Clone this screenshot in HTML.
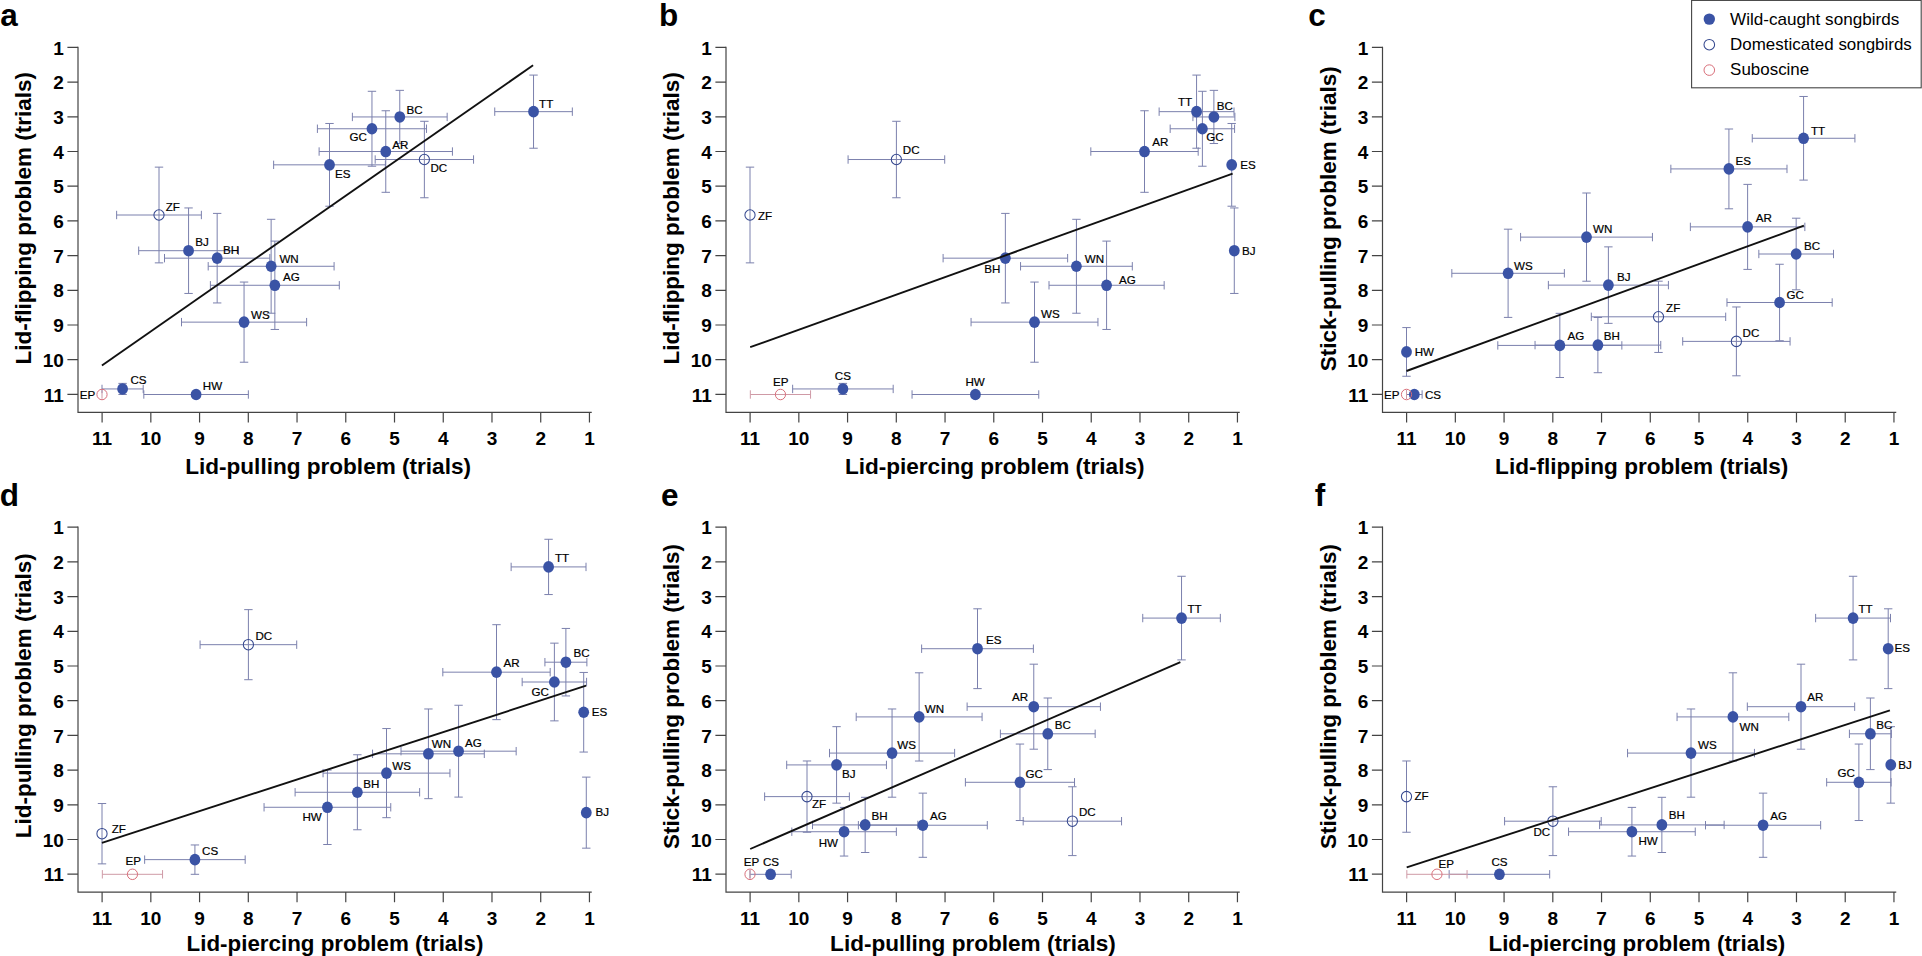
<!DOCTYPE html>
<html lang="en">
<head>
<meta charset="utf-8">
<title>Problem-solving performance across songbird species</title>
<style>
html,body{margin:0;padding:0;background:#fff;}
body{width:1922px;height:956px;overflow:hidden;}
svg{display:block;font-family:"Liberation Sans",sans-serif;}
.pl{font-size:31.5px;font-weight:700;fill:#000;}
.tk{font-size:19px;font-weight:700;fill:#000;}
.alx{font-size:21.5px;font-weight:700;fill:#000;}
.aly{font-size:22.5px;font-weight:700;fill:#000;}
.sl{font-size:11.6px;fill:#000;stroke:#000;stroke-width:0.2px;}
.lg{font-size:16px;fill:#000;}
.ax path{fill:none;stroke:#444;stroke-width:1.2;}
.eb{fill:none;stroke:#7b80ad;stroke-width:1;}
.ebr{fill:none;stroke:#cf9aa6;stroke-width:1;}
.mw{fill:#3a53a5;}
.md{fill:none;stroke:#35488f;stroke-width:1.05;}
.ms{fill:none;stroke:#d96f7a;stroke-width:1;}
.rl{fill:none;stroke:#111;stroke-width:1.9;}
</style>
</head>
<body>
<svg width="1922" height="956" viewBox="0 0 1922 956">
<rect width="1922" height="956" fill="#fff"/>
<g id="panel-a">
<text class="pl" transform="translate(0.2 25.9) scale(1 1)">a</text>
<g class="ax">
<path d="M78 46.7V412.3H591.75"/>
<path d="M78 47.4h-10.6M589.45 412.3v10.2M78 82.1h-10.6M540.72 412.3v10.2M78 116.8h-10.6M491.98 412.3v10.2M78 151.5h-10.6M443.25 412.3v10.2M78 186.2h-10.6M394.51 412.3v10.2M78 220.9h-10.6M345.77 412.3v10.2M78 255.6h-10.6M297.04 412.3v10.2M78 290.3h-10.6M248.3 412.3v10.2M78 325h-10.6M199.57 412.3v10.2M78 359.7h-10.6M150.83 412.3v10.2M78 394.4h-10.6M102.1 412.3v10.2"/>
</g>
<text class="tk" transform="translate(63.8 54.5) scale(1 1)" text-anchor="end">1</text>
<text class="tk" transform="translate(589.45 444.8) scale(1 1)" text-anchor="middle">1</text>
<text class="tk" transform="translate(63.8 89.2) scale(1 1)" text-anchor="end">2</text>
<text class="tk" transform="translate(540.72 444.8) scale(1 1)" text-anchor="middle">2</text>
<text class="tk" transform="translate(63.8 123.9) scale(1 1)" text-anchor="end">3</text>
<text class="tk" transform="translate(491.98 444.8) scale(1 1)" text-anchor="middle">3</text>
<text class="tk" transform="translate(63.8 158.6) scale(1 1)" text-anchor="end">4</text>
<text class="tk" transform="translate(443.25 444.8) scale(1 1)" text-anchor="middle">4</text>
<text class="tk" transform="translate(63.8 193.3) scale(1 1)" text-anchor="end">5</text>
<text class="tk" transform="translate(394.51 444.8) scale(1 1)" text-anchor="middle">5</text>
<text class="tk" transform="translate(63.8 228) scale(1 1)" text-anchor="end">6</text>
<text class="tk" transform="translate(345.77 444.8) scale(1 1)" text-anchor="middle">6</text>
<text class="tk" transform="translate(63.8 262.7) scale(1 1)" text-anchor="end">7</text>
<text class="tk" transform="translate(297.04 444.8) scale(1 1)" text-anchor="middle">7</text>
<text class="tk" transform="translate(63.8 297.4) scale(1 1)" text-anchor="end">8</text>
<text class="tk" transform="translate(248.3 444.8) scale(1 1)" text-anchor="middle">8</text>
<text class="tk" transform="translate(63.8 332.1) scale(1 1)" text-anchor="end">9</text>
<text class="tk" transform="translate(199.57 444.8) scale(1 1)" text-anchor="middle">9</text>
<text class="tk" transform="translate(63.8 366.8) scale(1 1)" text-anchor="end">10</text>
<text class="tk" transform="translate(150.83 444.8) scale(1 1)" text-anchor="middle">10</text>
<text class="tk" transform="translate(63.8 401.5) scale(1 1)" text-anchor="end">11</text>
<text class="tk" transform="translate(102.1 444.8) scale(1 1)" text-anchor="middle">11</text>
<text class="alx" transform="translate(185.2 473.5) scale(1.05 1)">Lid-pulling problem (trials)</text>
<text class="aly" transform="translate(31 364.4) rotate(-90) scale(1 1)">Lid-flipping problem (trials)</text>
<path class="eb" d="M494.74 111.66H572.33M494.74 107.46v8.4M572.33 107.46v8.4M533.54 75.09V148.23M529.34 75.09h8.4M529.34 148.23h8.4M352.39 116.94H447.16M352.39 112.74v8.4M447.16 112.74v8.4M399.78 90.35V143.53M395.58 90.35h8.4M395.58 143.53h8.4M317.4 128.76H426.52M317.4 124.56v8.4M426.52 124.56v8.4M371.96 91.29V166.23M367.76 91.29h8.4M367.76 166.23h8.4M319.11 151.53H452.43M319.11 147.33v8.4M452.43 147.33v8.4M385.77 110.75V192.3M381.57 110.75h8.4M381.57 192.3h8.4M375.18 159.52H473.56M375.18 155.32v8.4M473.56 155.32v8.4M424.37 121.29V197.76M420.17 121.29h8.4M420.17 197.76h8.4M273.63 164.84H385.38M273.63 160.64v8.4M385.38 160.64v8.4M329.51 123.48V206.21M325.31 123.48h8.4M325.31 206.21h8.4M116.64 215H201.36M116.64 210.8v8.4M201.36 210.8v8.4M159 167.13V262.86M154.8 167.13h8.4M154.8 262.86h8.4M138.7 250.7H238.44M138.7 246.5v8.4M238.44 246.5v8.4M188.57 207.94V293.45M184.37 207.94h8.4M184.37 293.45h8.4M164.51 258.17H269.82M164.51 253.97v8.4M269.82 253.97v8.4M217.17 213.4V302.94M212.97 213.4h8.4M212.97 302.94h8.4M208.19 266.27H334.09M208.19 262.07v8.4M334.09 262.07v8.4M271.14 219.31V313.23M266.94 219.31h8.4M266.94 313.23h8.4M210.38 285.28H339.31M210.38 281.08v8.4M339.31 281.08v8.4M274.85 241.1V329.46M270.65 241.1h8.4M270.65 329.46h8.4M181.5 322.13H306.62M181.5 317.93v8.4M306.62 317.93v8.4M244.06 282.05V362.21M239.86 282.05h8.4M239.86 362.21h8.4M102 388.94H143.19M102 384.74v8.4M143.19 384.74v8.4M122.59 383.38V394.5M118.39 383.38h8.4M118.39 394.5h8.4M143.82 394.5H248.35M143.82 390.3v8.4M248.35 390.3v8.4"/>
<path class="ebr" d="M102 390.3v8.4"/>
<ellipse class="mw" cx="533.54" cy="111.66" rx="5.4" ry="5.8"/>
<ellipse class="mw" cx="399.78" cy="116.94" rx="5.4" ry="5.8"/>
<ellipse class="mw" cx="371.96" cy="128.76" rx="5.4" ry="5.8"/>
<ellipse class="mw" cx="385.77" cy="151.53" rx="5.4" ry="5.8"/>
<ellipse class="md" cx="424.37" cy="159.52" rx="5.1" ry="5.25"/>
<ellipse class="mw" cx="329.51" cy="164.84" rx="5.4" ry="5.8"/>
<ellipse class="md" cx="159" cy="215" rx="5.1" ry="5.25"/>
<ellipse class="mw" cx="188.57" cy="250.7" rx="5.4" ry="5.8"/>
<ellipse class="mw" cx="217.17" cy="258.17" rx="5.4" ry="5.8"/>
<ellipse class="mw" cx="271.14" cy="266.27" rx="5.4" ry="5.8"/>
<ellipse class="mw" cx="274.85" cy="285.28" rx="5.4" ry="5.8"/>
<ellipse class="mw" cx="244.06" cy="322.13" rx="5.4" ry="5.8"/>
<ellipse class="mw" cx="122.59" cy="388.94" rx="5.4" ry="5.8"/>
<ellipse class="mw" cx="196.09" cy="394.5" rx="5.4" ry="5.8"/>
<ellipse class="ms" cx="102" cy="394.5" rx="5.1" ry="5.25"/>
<path class="rl" d="M101.9 365.5L533.1 65.3"/>
<text class="sl" transform="translate(165.7 210.8) scale(1 1)">ZF</text>
<text class="sl" transform="translate(195.3 245.5) scale(1 1)">BJ</text>
<text class="sl" transform="translate(222.9 253.8) scale(1 1)">BH</text>
<text class="sl" transform="translate(279.4 262.6) scale(1 1)">WN</text>
<text class="sl" transform="translate(282.9 281.4) scale(1 1)">AG</text>
<text class="sl" transform="translate(251 319.1) scale(1 1)">WS</text>
<text class="sl" transform="translate(130.5 384.3) scale(1 1)">CS</text>
<text class="sl" transform="translate(202.8 390.1) scale(1 1)">HW</text>
<text class="sl" transform="translate(79.8 399.4) scale(1 1)">EP</text>
<text class="sl" transform="translate(539.1 108.4) scale(1 1)">TT</text>
<text class="sl" transform="translate(406.6 113.7) scale(1 1)">BC</text>
<text class="sl" transform="translate(349.6 141.3) scale(1 1)">GC</text>
<text class="sl" transform="translate(392.3 148.6) scale(1 1)">AR</text>
<text class="sl" transform="translate(430.4 172.4) scale(1 1)">DC</text>
<text class="sl" transform="translate(335.1 177.7) scale(1 1)">ES</text>
</g>
<g id="panel-b">
<text class="pl" transform="translate(659 25.9) scale(1 1)">b</text>
<g class="ax">
<path d="M726 46.7V412.3H1239.75"/>
<path d="M726 47.4h-10.6M1237.45 412.3v10.2M726 82.1h-10.6M1188.72 412.3v10.2M726 116.8h-10.6M1139.98 412.3v10.2M726 151.5h-10.6M1091.24 412.3v10.2M726 186.2h-10.6M1042.51 412.3v10.2M726 220.9h-10.6M993.77 412.3v10.2M726 255.6h-10.6M945.04 412.3v10.2M726 290.3h-10.6M896.3 412.3v10.2M726 325h-10.6M847.57 412.3v10.2M726 359.7h-10.6M798.84 412.3v10.2M726 394.4h-10.6M750.1 412.3v10.2"/>
</g>
<text class="tk" transform="translate(711.8 54.5) scale(1 1)" text-anchor="end">1</text>
<text class="tk" transform="translate(1237.45 444.8) scale(1 1)" text-anchor="middle">1</text>
<text class="tk" transform="translate(711.8 89.2) scale(1 1)" text-anchor="end">2</text>
<text class="tk" transform="translate(1188.72 444.8) scale(1 1)" text-anchor="middle">2</text>
<text class="tk" transform="translate(711.8 123.9) scale(1 1)" text-anchor="end">3</text>
<text class="tk" transform="translate(1139.98 444.8) scale(1 1)" text-anchor="middle">3</text>
<text class="tk" transform="translate(711.8 158.6) scale(1 1)" text-anchor="end">4</text>
<text class="tk" transform="translate(1091.24 444.8) scale(1 1)" text-anchor="middle">4</text>
<text class="tk" transform="translate(711.8 193.3) scale(1 1)" text-anchor="end">5</text>
<text class="tk" transform="translate(1042.51 444.8) scale(1 1)" text-anchor="middle">5</text>
<text class="tk" transform="translate(711.8 228) scale(1 1)" text-anchor="end">6</text>
<text class="tk" transform="translate(993.77 444.8) scale(1 1)" text-anchor="middle">6</text>
<text class="tk" transform="translate(711.8 262.7) scale(1 1)" text-anchor="end">7</text>
<text class="tk" transform="translate(945.04 444.8) scale(1 1)" text-anchor="middle">7</text>
<text class="tk" transform="translate(711.8 297.4) scale(1 1)" text-anchor="end">8</text>
<text class="tk" transform="translate(896.3 444.8) scale(1 1)" text-anchor="middle">8</text>
<text class="tk" transform="translate(711.8 332.1) scale(1 1)" text-anchor="end">9</text>
<text class="tk" transform="translate(847.57 444.8) scale(1 1)" text-anchor="middle">9</text>
<text class="tk" transform="translate(711.8 366.8) scale(1 1)" text-anchor="end">10</text>
<text class="tk" transform="translate(798.84 444.8) scale(1 1)" text-anchor="middle">10</text>
<text class="tk" transform="translate(711.8 401.5) scale(1 1)" text-anchor="end">11</text>
<text class="tk" transform="translate(750.1 444.8) scale(1 1)" text-anchor="middle">11</text>
<text class="alx" transform="translate(844.9 473.5) scale(1.05 1)">Lid-piercing problem (trials)</text>
<text class="aly" transform="translate(679 364.6) rotate(-90) scale(1 1)">Lid-flipping problem (trials)</text>
<path class="eb" d="M1159.14 111.66H1234M1159.14 107.46v8.4M1234 107.46v8.4M1196.57 75.09V148.23M1192.37 75.09h8.4M1192.37 148.23h8.4M1192.91 116.94H1234.88M1192.91 112.74v8.4M1234.88 112.74v8.4M1213.89 90.35V143.53M1209.69 90.35h8.4M1209.69 143.53h8.4M1170.17 128.76H1234.58M1170.17 124.56v8.4M1234.58 124.56v8.4M1202.38 91.29V166.23M1198.18 91.29h8.4M1198.18 166.23h8.4M1090.82 151.53H1198.18M1090.82 147.33v8.4M1198.18 147.33v8.4M1144.5 110.75V192.3M1140.3 110.75h8.4M1140.3 192.3h8.4M848.09 159.52H944.71M848.09 155.32v8.4M944.71 155.32v8.4M896.4 121.29V197.76M892.2 121.29h8.4M892.2 197.76h8.4M1231.7 123.48V206.21M1227.5 123.48h8.4M1227.5 206.21h8.4M750 167.13V262.86M745.8 167.13h8.4M745.8 262.86h8.4M1234.29 207.94V293.45M1230.09 207.94h8.4M1230.09 293.45h8.4M943.1 258.17H1067.64M943.1 253.97v8.4M1067.64 253.97v8.4M1005.37 213.4V302.94M1001.17 213.4h8.4M1001.17 302.94h8.4M1020.55 266.27H1132.3M1020.55 262.07v8.4M1132.3 262.07v8.4M1076.42 219.31V313.23M1072.22 219.31h8.4M1072.22 313.23h8.4M1049 285.28H1164.17M1049 281.08v8.4M1164.17 281.08v8.4M1106.58 241.1V329.46M1102.38 241.1h8.4M1102.38 329.46h8.4M971.06 322.13H1097.94M971.06 317.93v8.4M1097.94 317.93v8.4M1034.5 282.05V362.21M1030.3 282.05h8.4M1030.3 362.21h8.4M792.65 388.94H893.18M792.65 384.74v8.4M893.18 384.74v8.4M842.92 383.38V394.5M838.72 383.38h8.4M838.72 394.5h8.4M912.06 394.5H1038.75M912.06 390.3v8.4M1038.75 390.3v8.4"/>
<path class="ebr" d="M750.34 394.5H810.56M750.34 390.3v8.4M810.56 390.3v8.4"/>
<ellipse class="mw" cx="1196.57" cy="111.66" rx="5.4" ry="5.8"/>
<ellipse class="mw" cx="1213.89" cy="116.94" rx="5.4" ry="5.8"/>
<ellipse class="mw" cx="1202.38" cy="128.76" rx="5.4" ry="5.8"/>
<ellipse class="mw" cx="1144.5" cy="151.53" rx="5.4" ry="5.8"/>
<ellipse class="md" cx="896.4" cy="159.52" rx="5.1" ry="5.25"/>
<ellipse class="mw" cx="1231.7" cy="164.84" rx="5.4" ry="5.8"/>
<ellipse class="md" cx="750" cy="215" rx="5.1" ry="5.25"/>
<ellipse class="mw" cx="1234.29" cy="250.7" rx="5.4" ry="5.8"/>
<ellipse class="mw" cx="1005.37" cy="258.17" rx="5.4" ry="5.8"/>
<ellipse class="mw" cx="1076.42" cy="266.27" rx="5.4" ry="5.8"/>
<ellipse class="mw" cx="1106.58" cy="285.28" rx="5.4" ry="5.8"/>
<ellipse class="mw" cx="1034.5" cy="322.13" rx="5.4" ry="5.8"/>
<ellipse class="mw" cx="842.92" cy="388.94" rx="5.4" ry="5.8"/>
<ellipse class="mw" cx="975.41" cy="394.5" rx="5.4" ry="5.8"/>
<ellipse class="ms" cx="780.45" cy="394.5" rx="5.1" ry="5.25"/>
<path class="rl" d="M750.2 347.2L1232.6 173.7"/>
<text class="sl" transform="translate(758 219.6) scale(1 1)">ZF</text>
<text class="sl" transform="translate(902.8 153.6) scale(1 1)">DC</text>
<text class="sl" transform="translate(773 385.6) scale(1 1)">EP</text>
<text class="sl" transform="translate(834.8 380.1) scale(1 1)">CS</text>
<text class="sl" transform="translate(1177.9 106.4) scale(1 1)">TT</text>
<text class="sl" transform="translate(1216.7 110.4) scale(1 1)">BC</text>
<text class="sl" transform="translate(1206.3 140.9) scale(1 1)">GC</text>
<text class="sl" transform="translate(1152.3 146.1) scale(1 1)">AR</text>
<text class="sl" transform="translate(1240.3 169.4) scale(1 1)">ES</text>
<text class="sl" transform="translate(984.3 273.4) scale(1 1)">BH</text>
<text class="sl" transform="translate(1084.7 262.8) scale(1 1)">WN</text>
<text class="sl" transform="translate(1119.1 283.9) scale(1 1)">AG</text>
<text class="sl" transform="translate(1041.1 318.1) scale(1 1)">WS</text>
<text class="sl" transform="translate(965.5 386.3) scale(1 1)">HW</text>
<text class="sl" transform="translate(1241.9 254.5) scale(1 1)">BJ</text>
</g>
<g id="panel-c">
<text class="pl" transform="translate(1308.3 25.9) scale(1 1)">c</text>
<g class="ax">
<path d="M1382.5 46.7V412.3H1896.25"/>
<path d="M1382.5 47.4h-10.6M1893.95 412.3v10.2M1382.5 82.1h-10.6M1845.22 412.3v10.2M1382.5 116.8h-10.6M1796.48 412.3v10.2M1382.5 151.5h-10.6M1747.74 412.3v10.2M1382.5 186.2h-10.6M1699.01 412.3v10.2M1382.5 220.9h-10.6M1650.28 412.3v10.2M1382.5 255.6h-10.6M1601.54 412.3v10.2M1382.5 290.3h-10.6M1552.81 412.3v10.2M1382.5 325h-10.6M1504.07 412.3v10.2M1382.5 359.7h-10.6M1455.34 412.3v10.2M1382.5 394.4h-10.6M1406.6 412.3v10.2"/>
</g>
<text class="tk" transform="translate(1368.3 54.5) scale(1 1)" text-anchor="end">1</text>
<text class="tk" transform="translate(1893.95 444.8) scale(1 1)" text-anchor="middle">1</text>
<text class="tk" transform="translate(1368.3 89.2) scale(1 1)" text-anchor="end">2</text>
<text class="tk" transform="translate(1845.22 444.8) scale(1 1)" text-anchor="middle">2</text>
<text class="tk" transform="translate(1368.3 123.9) scale(1 1)" text-anchor="end">3</text>
<text class="tk" transform="translate(1796.48 444.8) scale(1 1)" text-anchor="middle">3</text>
<text class="tk" transform="translate(1368.3 158.6) scale(1 1)" text-anchor="end">4</text>
<text class="tk" transform="translate(1747.74 444.8) scale(1 1)" text-anchor="middle">4</text>
<text class="tk" transform="translate(1368.3 193.3) scale(1 1)" text-anchor="end">5</text>
<text class="tk" transform="translate(1699.01 444.8) scale(1 1)" text-anchor="middle">5</text>
<text class="tk" transform="translate(1368.3 228) scale(1 1)" text-anchor="end">6</text>
<text class="tk" transform="translate(1650.28 444.8) scale(1 1)" text-anchor="middle">6</text>
<text class="tk" transform="translate(1368.3 262.7) scale(1 1)" text-anchor="end">7</text>
<text class="tk" transform="translate(1601.54 444.8) scale(1 1)" text-anchor="middle">7</text>
<text class="tk" transform="translate(1368.3 297.4) scale(1 1)" text-anchor="end">8</text>
<text class="tk" transform="translate(1552.81 444.8) scale(1 1)" text-anchor="middle">8</text>
<text class="tk" transform="translate(1368.3 332.1) scale(1 1)" text-anchor="end">9</text>
<text class="tk" transform="translate(1504.07 444.8) scale(1 1)" text-anchor="middle">9</text>
<text class="tk" transform="translate(1368.3 366.8) scale(1 1)" text-anchor="end">10</text>
<text class="tk" transform="translate(1455.34 444.8) scale(1 1)" text-anchor="middle">10</text>
<text class="tk" transform="translate(1368.3 401.5) scale(1 1)" text-anchor="end">11</text>
<text class="tk" transform="translate(1406.6 444.8) scale(1 1)" text-anchor="middle">11</text>
<text class="alx" transform="translate(1495.1 473.5) scale(1.05 1)">Lid-flipping problem (trials)</text>
<text class="aly" transform="translate(1335.5 371.2) rotate(-90) scale(1 1)">Stick-pulling problem (trials)</text>
<path class="eb" d="M1752.25 138.28H1854.92M1752.25 134.08v8.4M1854.92 134.08v8.4M1803.59 96.47V180.1M1799.39 96.47h8.4M1799.39 180.1h8.4M1758.84 254H1833.5M1758.84 249.8v8.4M1833.5 249.8v8.4M1796.17 218.2V289.8M1791.97 218.2h8.4M1791.97 289.8h8.4M1726.97 302.49H1832.18M1726.97 298.29v8.4M1832.18 298.29v8.4M1779.58 264.25V340.73M1775.38 264.25h8.4M1775.38 340.73h8.4M1690.37 226.89H1804.85M1690.37 222.69v8.4M1804.85 222.69v8.4M1747.61 184.38V269.4M1743.41 184.38h8.4M1743.41 269.4h8.4M1682.71 341.39H1790.07M1682.71 337.19v8.4M1790.07 337.19v8.4M1736.39 306.97V375.8M1732.19 306.97h8.4M1732.19 375.8h8.4M1670.85 168.91H1786.99M1670.85 164.71v8.4M1786.99 164.71v8.4M1728.92 129V208.81M1724.72 129h8.4M1724.72 208.81h8.4M1591.31 316.81H1725.7M1591.31 312.61v8.4M1725.7 312.61v8.4M1658.5 281.18V352.44M1654.3 281.18h8.4M1654.3 352.44h8.4M1548.36 285.11H1668.41M1548.36 280.91v8.4M1668.41 280.91v8.4M1608.39 246.87V323.35M1604.19 246.87h8.4M1604.19 323.35h8.4M1535.04 345.11H1660.75M1535.04 340.91v8.4M1660.75 340.91v8.4M1597.89 317.51V372.71M1593.69 317.51h8.4M1593.69 372.71h8.4M1520.59 237.11H1652.45M1520.59 232.91v8.4M1652.45 232.91v8.4M1586.52 193V281.22M1582.32 193h8.4M1582.32 281.22h8.4M1497.8 345.42H1621.85M1497.8 341.22v8.4M1621.85 341.22v8.4M1559.83 313.34V377.5M1555.63 313.34h8.4M1555.63 377.5h8.4M1451.84 273.29H1564.37M1451.84 269.09v8.4M1564.37 269.09v8.4M1508.1 229.18V317.4M1503.9 229.18h8.4M1503.9 317.4h8.4M1406.5 394.5H1422.12M1406.5 390.3v8.4M1422.12 390.3v8.4M1406.5 327.59V376.25M1402.3 327.59h8.4M1402.3 376.25h8.4"/>
<path class="ebr" d="M1406.5 390.3v8.4"/>
<ellipse class="mw" cx="1803.59" cy="138.28" rx="5.4" ry="5.8"/>
<ellipse class="mw" cx="1796.17" cy="254" rx="5.4" ry="5.8"/>
<ellipse class="mw" cx="1779.58" cy="302.49" rx="5.4" ry="5.8"/>
<ellipse class="mw" cx="1747.61" cy="226.89" rx="5.4" ry="5.8"/>
<ellipse class="md" cx="1736.39" cy="341.39" rx="5.1" ry="5.25"/>
<ellipse class="mw" cx="1728.92" cy="168.91" rx="5.4" ry="5.8"/>
<ellipse class="md" cx="1658.5" cy="316.81" rx="5.1" ry="5.25"/>
<ellipse class="mw" cx="1608.39" cy="285.11" rx="5.4" ry="5.8"/>
<ellipse class="mw" cx="1597.89" cy="345.11" rx="5.4" ry="5.8"/>
<ellipse class="mw" cx="1586.52" cy="237.11" rx="5.4" ry="5.8"/>
<ellipse class="mw" cx="1559.83" cy="345.42" rx="5.4" ry="5.8"/>
<ellipse class="mw" cx="1508.1" cy="273.29" rx="5.4" ry="5.8"/>
<ellipse class="mw" cx="1414.31" cy="394.5" rx="5.4" ry="5.8"/>
<ellipse class="mw" cx="1406.5" cy="351.92" rx="5.4" ry="5.8"/>
<ellipse class="ms" cx="1406.5" cy="394.5" rx="5.1" ry="5.25"/>
<path class="rl" d="M1406.5 371L1803.9 225.7"/>
<text class="sl" transform="translate(1414.7 356.2) scale(1 1)">HW</text>
<text class="sl" transform="translate(1384.1 399.4) scale(1 1)">EP</text>
<text class="sl" transform="translate(1425 399.4) scale(1 1)">CS</text>
<text class="sl" transform="translate(1514.1 269.6) scale(1 1)">WS</text>
<text class="sl" transform="translate(1567.6 340.4) scale(1 1)">AG</text>
<text class="sl" transform="translate(1603.8 340.4) scale(1 1)">BH</text>
<text class="sl" transform="translate(1810.9 134.5) scale(1 1)">TT</text>
<text class="sl" transform="translate(1735.6 164.7) scale(1 1)">ES</text>
<text class="sl" transform="translate(1755.7 222.1) scale(1 1)">AR</text>
<text class="sl" transform="translate(1804.1 250) scale(1 1)">BC</text>
<text class="sl" transform="translate(1616.9 280.9) scale(1 1)">BJ</text>
<text class="sl" transform="translate(1593 233.2) scale(1 1)">WN</text>
<text class="sl" transform="translate(1786.5 299) scale(1 1)">GC</text>
<text class="sl" transform="translate(1666.1 312.3) scale(1 1)">ZF</text>
<text class="sl" transform="translate(1742.6 336.6) scale(1 1)">DC</text>
</g>
<g id="panel-d">
<text class="pl" transform="translate(-0.2 505.7) scale(1 1)">d</text>
<g class="ax">
<path d="M78 526.5V892.1H591.75"/>
<path d="M78 527.2h-10.6M589.45 892.1v10.2M78 561.9h-10.6M540.72 892.1v10.2M78 596.6h-10.6M491.98 892.1v10.2M78 631.3h-10.6M443.25 892.1v10.2M78 666h-10.6M394.51 892.1v10.2M78 700.7h-10.6M345.77 892.1v10.2M78 735.4h-10.6M297.04 892.1v10.2M78 770.1h-10.6M248.3 892.1v10.2M78 804.8h-10.6M199.57 892.1v10.2M78 839.5h-10.6M150.83 892.1v10.2M78 874.2h-10.6M102.1 892.1v10.2"/>
</g>
<text class="tk" transform="translate(63.8 534.3) scale(1 1)" text-anchor="end">1</text>
<text class="tk" transform="translate(589.45 924.6) scale(1 1)" text-anchor="middle">1</text>
<text class="tk" transform="translate(63.8 569) scale(1 1)" text-anchor="end">2</text>
<text class="tk" transform="translate(540.72 924.6) scale(1 1)" text-anchor="middle">2</text>
<text class="tk" transform="translate(63.8 603.7) scale(1 1)" text-anchor="end">3</text>
<text class="tk" transform="translate(491.98 924.6) scale(1 1)" text-anchor="middle">3</text>
<text class="tk" transform="translate(63.8 638.4) scale(1 1)" text-anchor="end">4</text>
<text class="tk" transform="translate(443.25 924.6) scale(1 1)" text-anchor="middle">4</text>
<text class="tk" transform="translate(63.8 673.1) scale(1 1)" text-anchor="end">5</text>
<text class="tk" transform="translate(394.51 924.6) scale(1 1)" text-anchor="middle">5</text>
<text class="tk" transform="translate(63.8 707.8) scale(1 1)" text-anchor="end">6</text>
<text class="tk" transform="translate(345.77 924.6) scale(1 1)" text-anchor="middle">6</text>
<text class="tk" transform="translate(63.8 742.5) scale(1 1)" text-anchor="end">7</text>
<text class="tk" transform="translate(297.04 924.6) scale(1 1)" text-anchor="middle">7</text>
<text class="tk" transform="translate(63.8 777.2) scale(1 1)" text-anchor="end">8</text>
<text class="tk" transform="translate(248.3 924.6) scale(1 1)" text-anchor="middle">8</text>
<text class="tk" transform="translate(63.8 811.9) scale(1 1)" text-anchor="end">9</text>
<text class="tk" transform="translate(199.57 924.6) scale(1 1)" text-anchor="middle">9</text>
<text class="tk" transform="translate(63.8 846.6) scale(1 1)" text-anchor="end">10</text>
<text class="tk" transform="translate(150.83 924.6) scale(1 1)" text-anchor="middle">10</text>
<text class="tk" transform="translate(63.8 881.3) scale(1 1)" text-anchor="end">11</text>
<text class="tk" transform="translate(102.1 924.6) scale(1 1)" text-anchor="middle">11</text>
<text class="alx" transform="translate(186.6 950.6) scale(1.04 1)">Lid-piercing problem (trials)</text>
<text class="aly" transform="translate(31 838.3) rotate(-90) scale(1 1)">Lid-pulling problem (trials)</text>
<path class="eb" d="M511.14 566.92H586M511.14 562.72v8.4M586 562.72v8.4M548.57 539.28V594.55M544.37 539.28h8.4M544.37 594.55h8.4M544.91 662.19H586.88M544.91 657.99v8.4M586.88 657.99v8.4M565.89 628.44V695.95M561.69 628.44h8.4M561.69 695.95h8.4M522.17 682.01H586.58M522.17 677.81v8.4M586.58 677.81v8.4M554.38 643.15V720.87M550.18 643.15h8.4M550.18 720.87h8.4M442.82 672.17H550.18M442.82 667.97v8.4M550.18 667.97v8.4M496.5 624.69V719.65M492.3 624.69h8.4M492.3 719.65h8.4M200.09 644.68H296.71M200.09 640.48v8.4M296.71 640.48v8.4M248.4 609.64V679.71M244.2 609.64h8.4M244.2 679.71h8.4M583.7 672.45V752.05M579.5 672.45h8.4M579.5 752.05h8.4M102 803.53V863.87M97.8 803.53h8.4M97.8 863.87h8.4M586.29 777.11V848.16M582.09 777.11h8.4M582.09 848.16h8.4M295.1 792.27H419.64M295.1 788.07v8.4M419.64 788.07v8.4M357.37 754.76V829.77M353.17 754.76h8.4M353.17 829.77h8.4M372.55 753.82H484.3M372.55 749.62v8.4M484.3 749.62v8.4M428.42 708.98V798.66M424.22 708.98h8.4M424.22 798.66h8.4M401 751.18H516.17M401 746.98v8.4M516.17 746.98v8.4M458.58 705.26V797.1M454.38 705.26h8.4M454.38 797.1h8.4M323.06 773.11H449.94M323.06 768.91v8.4M449.94 768.91v8.4M386.5 728.55V817.68M382.3 728.55h8.4M382.3 817.68h8.4M144.65 859.63H245.18M144.65 855.43v8.4M245.18 855.43v8.4M194.92 844.96V874.3M190.72 844.96h8.4M190.72 874.3h8.4M264.06 807.28H390.75M264.06 803.08v8.4M390.75 803.08v8.4M327.41 770.05V844.51M323.21 770.05h8.4M323.21 844.51h8.4"/>
<path class="ebr" d="M102.34 874.3H162.56M102.34 870.1v8.4M162.56 870.1v8.4"/>
<ellipse class="mw" cx="548.57" cy="566.92" rx="5.4" ry="5.8"/>
<ellipse class="mw" cx="565.89" cy="662.19" rx="5.4" ry="5.8"/>
<ellipse class="mw" cx="554.38" cy="682.01" rx="5.4" ry="5.8"/>
<ellipse class="mw" cx="496.5" cy="672.17" rx="5.4" ry="5.8"/>
<ellipse class="md" cx="248.4" cy="644.68" rx="5.1" ry="5.25"/>
<ellipse class="mw" cx="583.7" cy="712.25" rx="5.4" ry="5.8"/>
<ellipse class="md" cx="102" cy="833.7" rx="5.1" ry="5.25"/>
<ellipse class="mw" cx="586.29" cy="812.64" rx="5.4" ry="5.8"/>
<ellipse class="mw" cx="357.37" cy="792.27" rx="5.4" ry="5.8"/>
<ellipse class="mw" cx="428.42" cy="753.82" rx="5.4" ry="5.8"/>
<ellipse class="mw" cx="458.58" cy="751.18" rx="5.4" ry="5.8"/>
<ellipse class="mw" cx="386.5" cy="773.11" rx="5.4" ry="5.8"/>
<ellipse class="mw" cx="194.92" cy="859.63" rx="5.4" ry="5.8"/>
<ellipse class="mw" cx="327.41" cy="807.28" rx="5.4" ry="5.8"/>
<ellipse class="ms" cx="132.45" cy="874.3" rx="5.1" ry="5.25"/>
<path class="rl" d="M101.9 842.8L586.1 685.7"/>
<text class="sl" transform="translate(255.5 639.6) scale(1 1)">DC</text>
<text class="sl" transform="translate(554.9 561.5) scale(1 1)">TT</text>
<text class="sl" transform="translate(573.5 656.9) scale(1 1)">BC</text>
<text class="sl" transform="translate(503.5 666.9) scale(1 1)">AR</text>
<text class="sl" transform="translate(531.6 695.8) scale(1 1)">GC</text>
<text class="sl" transform="translate(591.8 715.9) scale(1 1)">ES</text>
<text class="sl" transform="translate(431.7 748.1) scale(1 1)">WN</text>
<text class="sl" transform="translate(465.1 746.6) scale(1 1)">AG</text>
<text class="sl" transform="translate(392.3 769.5) scale(1 1)">WS</text>
<text class="sl" transform="translate(363.2 788.3) scale(1 1)">BH</text>
<text class="sl" transform="translate(595.4 816.4) scale(1 1)">BJ</text>
<text class="sl" transform="translate(111.7 832.7) scale(1 1)">ZF</text>
<text class="sl" transform="translate(125.5 865.3) scale(1 1)">EP</text>
<text class="sl" transform="translate(202.1 854.8) scale(1 1)">CS</text>
<text class="sl" transform="translate(302.5 821.4) scale(1 1)">HW</text>
</g>
<g id="panel-e">
<text class="pl" transform="translate(660.9 505.7) scale(1 1)">e</text>
<g class="ax">
<path d="M726 526.5V892.1H1239.75"/>
<path d="M726 527.2h-10.6M1237.45 892.1v10.2M726 561.9h-10.6M1188.72 892.1v10.2M726 596.6h-10.6M1139.98 892.1v10.2M726 631.3h-10.6M1091.24 892.1v10.2M726 666h-10.6M1042.51 892.1v10.2M726 700.7h-10.6M993.77 892.1v10.2M726 735.4h-10.6M945.04 892.1v10.2M726 770.1h-10.6M896.3 892.1v10.2M726 804.8h-10.6M847.57 892.1v10.2M726 839.5h-10.6M798.84 892.1v10.2M726 874.2h-10.6M750.1 892.1v10.2"/>
</g>
<text class="tk" transform="translate(711.8 534.3) scale(1 1)" text-anchor="end">1</text>
<text class="tk" transform="translate(1237.45 924.6) scale(1 1)" text-anchor="middle">1</text>
<text class="tk" transform="translate(711.8 569) scale(1 1)" text-anchor="end">2</text>
<text class="tk" transform="translate(1188.72 924.6) scale(1 1)" text-anchor="middle">2</text>
<text class="tk" transform="translate(711.8 603.7) scale(1 1)" text-anchor="end">3</text>
<text class="tk" transform="translate(1139.98 924.6) scale(1 1)" text-anchor="middle">3</text>
<text class="tk" transform="translate(711.8 638.4) scale(1 1)" text-anchor="end">4</text>
<text class="tk" transform="translate(1091.24 924.6) scale(1 1)" text-anchor="middle">4</text>
<text class="tk" transform="translate(711.8 673.1) scale(1 1)" text-anchor="end">5</text>
<text class="tk" transform="translate(1042.51 924.6) scale(1 1)" text-anchor="middle">5</text>
<text class="tk" transform="translate(711.8 707.8) scale(1 1)" text-anchor="end">6</text>
<text class="tk" transform="translate(993.77 924.6) scale(1 1)" text-anchor="middle">6</text>
<text class="tk" transform="translate(711.8 742.5) scale(1 1)" text-anchor="end">7</text>
<text class="tk" transform="translate(945.04 924.6) scale(1 1)" text-anchor="middle">7</text>
<text class="tk" transform="translate(711.8 777.2) scale(1 1)" text-anchor="end">8</text>
<text class="tk" transform="translate(896.3 924.6) scale(1 1)" text-anchor="middle">8</text>
<text class="tk" transform="translate(711.8 811.9) scale(1 1)" text-anchor="end">9</text>
<text class="tk" transform="translate(847.57 924.6) scale(1 1)" text-anchor="middle">9</text>
<text class="tk" transform="translate(711.8 846.6) scale(1 1)" text-anchor="end">10</text>
<text class="tk" transform="translate(798.84 924.6) scale(1 1)" text-anchor="middle">10</text>
<text class="tk" transform="translate(711.8 881.3) scale(1 1)" text-anchor="end">11</text>
<text class="tk" transform="translate(750.1 924.6) scale(1 1)" text-anchor="middle">11</text>
<text class="alx" transform="translate(830.1 950.6) scale(1.05 1)">Lid-pulling problem (trials)</text>
<text class="aly" transform="translate(679 849) rotate(-90) scale(1 1)">Stick-pulling problem (trials)</text>
<path class="eb" d="M1142.74 618.08H1220.33M1142.74 613.88v8.4M1220.33 613.88v8.4M1181.54 576.27V659.9M1177.34 576.27h8.4M1177.34 659.9h8.4M1000.39 733.8H1095.16M1000.39 729.6v8.4M1095.16 729.6v8.4M1047.78 698V769.6M1043.58 698h8.4M1043.58 769.6h8.4M965.4 782.29H1074.52M965.4 778.09v8.4M1074.52 778.09v8.4M1019.96 744.05V820.53M1015.76 744.05h8.4M1015.76 820.53h8.4M967.11 706.69H1100.43M967.11 702.49v8.4M1100.43 702.49v8.4M1033.77 664.18V749.2M1029.57 664.18h8.4M1029.57 749.2h8.4M1023.18 821.19H1121.56M1023.18 816.99v8.4M1121.56 816.99v8.4M1072.37 786.77V855.6M1068.17 786.77h8.4M1068.17 855.6h8.4M921.63 648.71H1033.38M921.63 644.51v8.4M1033.38 644.51v8.4M977.51 608.8V688.61M973.31 608.8h8.4M973.31 688.61h8.4M764.64 796.61H849.36M764.64 792.41v8.4M849.36 792.41v8.4M807 760.98V832.24M802.8 760.98h8.4M802.8 832.24h8.4M786.7 764.91H886.44M786.7 760.71v8.4M886.44 760.71v8.4M836.57 726.67V803.15M832.37 726.67h8.4M832.37 803.15h8.4M812.51 824.91H917.82M812.51 820.71v8.4M917.82 820.71v8.4M865.17 797.31V852.51M860.97 797.31h8.4M860.97 852.51h8.4M856.19 716.91H982.09M856.19 712.71v8.4M982.09 712.71v8.4M919.14 672.8V761.02M914.94 672.8h8.4M914.94 761.02h8.4M858.38 825.22H987.31M858.38 821.02v8.4M987.31 821.02v8.4M922.85 793.14V857.3M918.65 793.14h8.4M918.65 857.3h8.4M829.5 753.09H954.62M829.5 748.89v8.4M954.62 748.89v8.4M892.06 708.98V797.2M887.86 708.98h8.4M887.86 797.2h8.4M750 874.3H791.19M750 870.1v8.4M791.19 870.1v8.4M791.82 831.72H896.35M791.82 827.52v8.4M896.35 827.52v8.4M844.09 807.39V856.05M839.89 807.39h8.4M839.89 856.05h8.4"/>
<path class="ebr" d="M750 870.1v8.4"/>
<ellipse class="mw" cx="1181.54" cy="618.08" rx="5.4" ry="5.8"/>
<ellipse class="mw" cx="1047.78" cy="733.8" rx="5.4" ry="5.8"/>
<ellipse class="mw" cx="1019.96" cy="782.29" rx="5.4" ry="5.8"/>
<ellipse class="mw" cx="1033.77" cy="706.69" rx="5.4" ry="5.8"/>
<ellipse class="md" cx="1072.37" cy="821.19" rx="5.1" ry="5.25"/>
<ellipse class="mw" cx="977.51" cy="648.71" rx="5.4" ry="5.8"/>
<ellipse class="md" cx="807" cy="796.61" rx="5.1" ry="5.25"/>
<ellipse class="mw" cx="836.57" cy="764.91" rx="5.4" ry="5.8"/>
<ellipse class="mw" cx="865.17" cy="824.91" rx="5.4" ry="5.8"/>
<ellipse class="mw" cx="919.14" cy="716.91" rx="5.4" ry="5.8"/>
<ellipse class="mw" cx="922.85" cy="825.22" rx="5.4" ry="5.8"/>
<ellipse class="mw" cx="892.06" cy="753.09" rx="5.4" ry="5.8"/>
<ellipse class="mw" cx="770.59" cy="874.3" rx="5.4" ry="5.8"/>
<ellipse class="mw" cx="844.09" cy="831.72" rx="5.4" ry="5.8"/>
<ellipse class="ms" cx="750" cy="874.3" rx="5.1" ry="5.25"/>
<path class="rl" d="M750.2 849L1180.4 662.2"/>
<text class="sl" transform="translate(743.7 866.1) scale(1 1)">EP</text>
<text class="sl" transform="translate(763 866.1) scale(1 1)">CS</text>
<text class="sl" transform="translate(818.7 846.5) scale(1 1)">HW</text>
<text class="sl" transform="translate(871.4 820.2) scale(1 1)">BH</text>
<text class="sl" transform="translate(929.9 820.2) scale(1 1)">AG</text>
<text class="sl" transform="translate(811.9 808.4) scale(1 1)">ZF</text>
<text class="sl" transform="translate(842.1 777.5) scale(1 1)">BJ</text>
<text class="sl" transform="translate(897.3 748.6) scale(1 1)">WS</text>
<text class="sl" transform="translate(1187.4 613.1) scale(1 1)">TT</text>
<text class="sl" transform="translate(986.1 643.9) scale(1 1)">ES</text>
<text class="sl" transform="translate(1012.1 701.2) scale(1 1)">AR</text>
<text class="sl" transform="translate(924.8 713.3) scale(1 1)">WN</text>
<text class="sl" transform="translate(1054.7 728.6) scale(1 1)">BC</text>
<text class="sl" transform="translate(1025.6 778) scale(1 1)">GC</text>
<text class="sl" transform="translate(1079 816.4) scale(1 1)">DC</text>
</g>
<g id="panel-f">
<text class="pl" transform="translate(1314.8 505.7) scale(1 1)">f</text>
<g class="ax">
<path d="M1382.5 526.5V892.1H1896.25"/>
<path d="M1382.5 527.2h-10.6M1893.95 892.1v10.2M1382.5 561.9h-10.6M1845.22 892.1v10.2M1382.5 596.6h-10.6M1796.48 892.1v10.2M1382.5 631.3h-10.6M1747.74 892.1v10.2M1382.5 666h-10.6M1699.01 892.1v10.2M1382.5 700.7h-10.6M1650.28 892.1v10.2M1382.5 735.4h-10.6M1601.54 892.1v10.2M1382.5 770.1h-10.6M1552.81 892.1v10.2M1382.5 804.8h-10.6M1504.07 892.1v10.2M1382.5 839.5h-10.6M1455.34 892.1v10.2M1382.5 874.2h-10.6M1406.6 892.1v10.2"/>
</g>
<text class="tk" transform="translate(1368.3 534.3) scale(1 1)" text-anchor="end">1</text>
<text class="tk" transform="translate(1893.95 924.6) scale(1 1)" text-anchor="middle">1</text>
<text class="tk" transform="translate(1368.3 569) scale(1 1)" text-anchor="end">2</text>
<text class="tk" transform="translate(1845.22 924.6) scale(1 1)" text-anchor="middle">2</text>
<text class="tk" transform="translate(1368.3 603.7) scale(1 1)" text-anchor="end">3</text>
<text class="tk" transform="translate(1796.48 924.6) scale(1 1)" text-anchor="middle">3</text>
<text class="tk" transform="translate(1368.3 638.4) scale(1 1)" text-anchor="end">4</text>
<text class="tk" transform="translate(1747.74 924.6) scale(1 1)" text-anchor="middle">4</text>
<text class="tk" transform="translate(1368.3 673.1) scale(1 1)" text-anchor="end">5</text>
<text class="tk" transform="translate(1699.01 924.6) scale(1 1)" text-anchor="middle">5</text>
<text class="tk" transform="translate(1368.3 707.8) scale(1 1)" text-anchor="end">6</text>
<text class="tk" transform="translate(1650.28 924.6) scale(1 1)" text-anchor="middle">6</text>
<text class="tk" transform="translate(1368.3 742.5) scale(1 1)" text-anchor="end">7</text>
<text class="tk" transform="translate(1601.54 924.6) scale(1 1)" text-anchor="middle">7</text>
<text class="tk" transform="translate(1368.3 777.2) scale(1 1)" text-anchor="end">8</text>
<text class="tk" transform="translate(1552.81 924.6) scale(1 1)" text-anchor="middle">8</text>
<text class="tk" transform="translate(1368.3 811.9) scale(1 1)" text-anchor="end">9</text>
<text class="tk" transform="translate(1504.07 924.6) scale(1 1)" text-anchor="middle">9</text>
<text class="tk" transform="translate(1368.3 846.6) scale(1 1)" text-anchor="end">10</text>
<text class="tk" transform="translate(1455.34 924.6) scale(1 1)" text-anchor="middle">10</text>
<text class="tk" transform="translate(1368.3 881.3) scale(1 1)" text-anchor="end">11</text>
<text class="tk" transform="translate(1406.6 924.6) scale(1 1)" text-anchor="middle">11</text>
<text class="alx" transform="translate(1488.5 950.6) scale(1.04 1)">Lid-piercing problem (trials)</text>
<text class="aly" transform="translate(1335.5 849) rotate(-90) scale(1 1)">Stick-pulling problem (trials)</text>
<path class="eb" d="M1815.64 618.08H1890.5M1815.64 613.88v8.4M1890.5 613.88v8.4M1853.07 576.27V659.9M1848.87 576.27h8.4M1848.87 659.9h8.4M1849.41 733.8H1891.38M1849.41 729.6v8.4M1891.38 729.6v8.4M1870.39 698V769.6M1866.19 698h8.4M1866.19 769.6h8.4M1826.67 782.29H1891.08M1826.67 778.09v8.4M1891.08 778.09v8.4M1858.88 744.05V820.53M1854.68 744.05h8.4M1854.68 820.53h8.4M1747.32 706.69H1854.68M1747.32 702.49v8.4M1854.68 702.49v8.4M1801 664.18V749.2M1796.8 664.18h8.4M1796.8 749.2h8.4M1504.59 821.19H1601.21M1504.59 816.99v8.4M1601.21 816.99v8.4M1552.9 786.77V855.6M1548.7 786.77h8.4M1548.7 855.6h8.4M1888.2 608.8V688.61M1884 608.8h8.4M1884 688.61h8.4M1406.5 760.98V832.24M1402.3 760.98h8.4M1402.3 832.24h8.4M1890.79 726.67V803.15M1886.59 726.67h8.4M1886.59 803.15h8.4M1599.6 824.91H1724.14M1599.6 820.71v8.4M1724.14 820.71v8.4M1661.87 797.31V852.51M1657.67 797.31h8.4M1657.67 852.51h8.4M1677.05 716.91H1788.8M1677.05 712.71v8.4M1788.8 712.71v8.4M1732.92 672.8V761.02M1728.72 672.8h8.4M1728.72 761.02h8.4M1705.5 825.22H1820.67M1705.5 821.02v8.4M1820.67 821.02v8.4M1763.08 793.14V857.3M1758.88 793.14h8.4M1758.88 857.3h8.4M1627.56 753.09H1754.44M1627.56 748.89v8.4M1754.44 748.89v8.4M1691 708.98V797.2M1686.8 708.98h8.4M1686.8 797.2h8.4M1449.15 874.3H1549.68M1449.15 870.1v8.4M1549.68 870.1v8.4M1568.56 831.72H1695.25M1568.56 827.52v8.4M1695.25 827.52v8.4M1631.91 807.39V856.05M1627.71 807.39h8.4M1627.71 856.05h8.4"/>
<path class="ebr" d="M1406.84 874.3H1467.06M1406.84 870.1v8.4M1467.06 870.1v8.4"/>
<ellipse class="mw" cx="1853.07" cy="618.08" rx="5.4" ry="5.8"/>
<ellipse class="mw" cx="1870.39" cy="733.8" rx="5.4" ry="5.8"/>
<ellipse class="mw" cx="1858.88" cy="782.29" rx="5.4" ry="5.8"/>
<ellipse class="mw" cx="1801" cy="706.69" rx="5.4" ry="5.8"/>
<ellipse class="md" cx="1552.9" cy="821.19" rx="5.1" ry="5.25"/>
<ellipse class="mw" cx="1888.2" cy="648.71" rx="5.4" ry="5.8"/>
<ellipse class="md" cx="1406.5" cy="796.61" rx="5.1" ry="5.25"/>
<ellipse class="mw" cx="1890.79" cy="764.91" rx="5.4" ry="5.8"/>
<ellipse class="mw" cx="1661.87" cy="824.91" rx="5.4" ry="5.8"/>
<ellipse class="mw" cx="1732.92" cy="716.91" rx="5.4" ry="5.8"/>
<ellipse class="mw" cx="1763.08" cy="825.22" rx="5.4" ry="5.8"/>
<ellipse class="mw" cx="1691" cy="753.09" rx="5.4" ry="5.8"/>
<ellipse class="mw" cx="1499.42" cy="874.3" rx="5.4" ry="5.8"/>
<ellipse class="mw" cx="1631.91" cy="831.72" rx="5.4" ry="5.8"/>
<ellipse class="ms" cx="1436.95" cy="874.3" rx="5.1" ry="5.25"/>
<path class="rl" d="M1406.7 867.4L1889.9 710.4"/>
<text class="sl" transform="translate(1698.1 748.6) scale(1 1)">WS</text>
<text class="sl" transform="translate(1876.3 728.5) scale(1 1)">BC</text>
<text class="sl" transform="translate(1898.2 768.7) scale(1 1)">BJ</text>
<text class="sl" transform="translate(1837.4 777) scale(1 1)">GC</text>
<text class="sl" transform="translate(1770.2 819.7) scale(1 1)">AG</text>
<text class="sl" transform="translate(1668.8 819.2) scale(1 1)">BH</text>
<text class="sl" transform="translate(1638.4 844.8) scale(1 1)">HW</text>
<text class="sl" transform="translate(1858.5 612.5) scale(1 1)">TT</text>
<text class="sl" transform="translate(1894.4 652.2) scale(1 1)">ES</text>
<text class="sl" transform="translate(1807.3 700.9) scale(1 1)">AR</text>
<text class="sl" transform="translate(1739.5 730.6) scale(1 1)">WN</text>
<text class="sl" transform="translate(1414.5 800.1) scale(1 1)">ZF</text>
<text class="sl" transform="translate(1533.4 836) scale(1 1)">DC</text>
<text class="sl" transform="translate(1438.6 867.9) scale(1 1)">EP</text>
<text class="sl" transform="translate(1491.5 865.8) scale(1 1)">CS</text>
</g>
<g id="legend">
<rect x="1691.6" y="0.4" width="229.6" height="87.4" fill="#fff" stroke="#444" stroke-width="1.1"/>
<circle class="mw" cx="1709.3" cy="19.1" r="5.7"/>
<circle class="md" cx="1709.3" cy="44.7" r="5.3"/>
<circle class="ms" cx="1709.3" cy="70.1" r="5.3"/>
<text class="lg" transform="translate(1730.1 24.6) scale(1.07 1)">Wild-caught songbirds</text>
<text class="lg" transform="translate(1730.1 50) scale(1.06 1)">Domesticated songbirds</text>
<text class="lg" transform="translate(1730.1 75.3) scale(1.06 1)">Suboscine</text>
</g>
</svg>
</body>
</html>
